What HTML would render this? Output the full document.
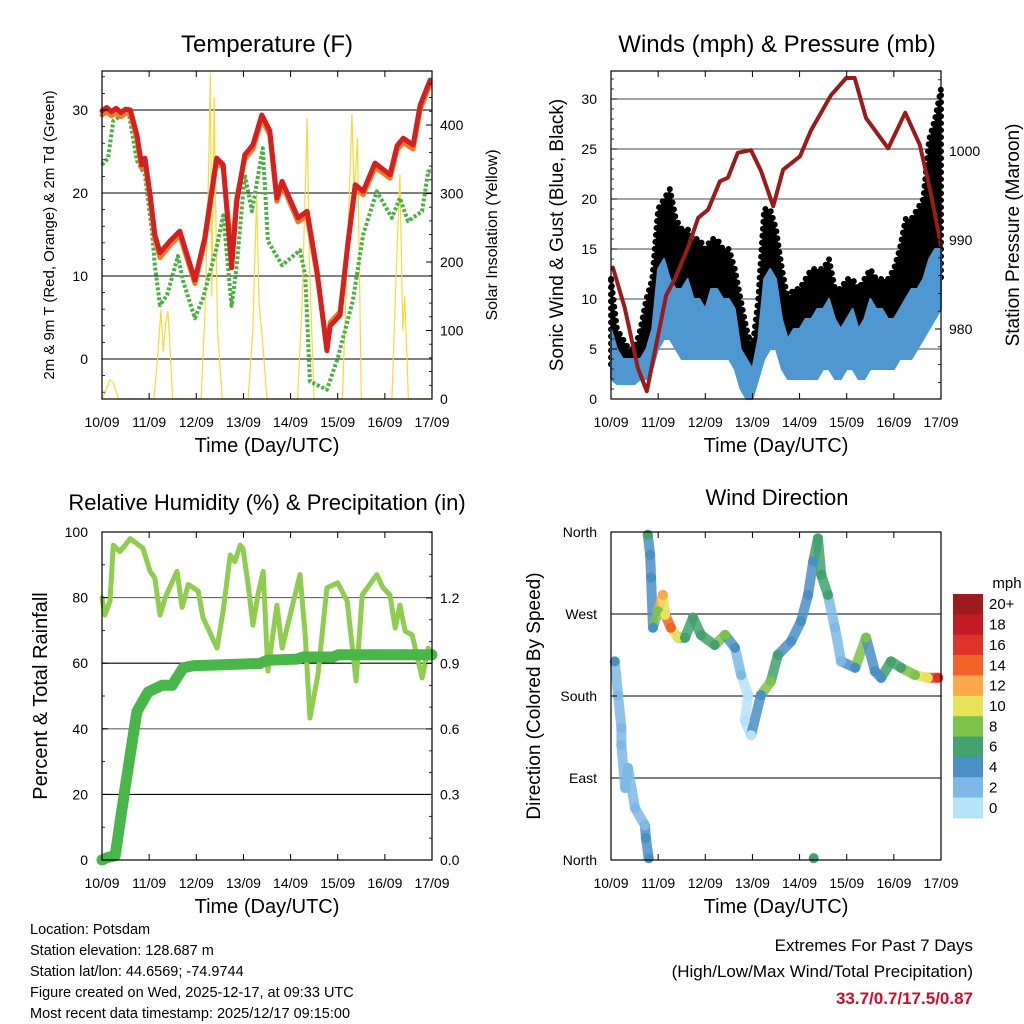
<!DOCTYPE html>
<html><head><meta charset="utf-8"><style>
body{margin:0;background:#fff;}
svg{display:block;font-family:"Liberation Sans",sans-serif;}
</style></head><body>
<svg id="c" width="1024" height="1024" viewBox="0 0 1024 1024">
<g id="g"></g>
</svg>
<script>
// ---------- DATA ----------
const dayLabels = ["10/09","11/09","12/09","13/09","14/09","15/09","16/09","17/09"];
const tempTicks = [0,10,20,30];
const solarTicks = [0,100,200,300,400];
const windTicks = [0,5,10,15,20,25,30];
const presTicks = [980,990,1000];
const rhTicks = [0,20,40,60,80,100];
const rainTicks = [0.0,0.3,0.6,0.9,1.2];
const dirTicks = ["North","East","South","West","North"];
const speedBins = ["0","2","4","6","8","10","12","14","16","18","20+"];

const tempTimes = [0,0.1,0.2,0.3,0.4,0.5,0.6,0.74,0.84,0.91,1.02,1.12,1.23,1.44,1.65,1.97,2.18,2.43,2.57,2.75,2.86,3.03,3.2,3.39,3.56,3.71,3.82,4.16,4.35,4.56,4.77,4.84,5.05,5.22,5.37,5.54,5.79,6.11,6.26,6.39,6.6,6.75,6.96];
const tempRed = [29.9,30.3,29.8,30.2,29.7,30.1,30,27,23.4,24.2,19.8,15,12.8,14.2,15.4,9.5,14.6,24.2,23.4,11,19,24.6,25.8,29.4,27.5,19.4,21.4,17,17.8,10.6,1,4,5.3,14.2,21,20.2,23.6,22.2,25.7,26.6,25.8,30.6,33.6];
const tempOrange = [29.4,29.8,29.3,29.7,29.2,29.6,29.6,26.5,23,23.8,19.3,14.5,12.2,13.7,14.9,9.1,14.2,23.8,23,12.5,19.5,24.1,25.3,28.9,27,19,21,16.5,17.3,10.2,1.5,4.4,5.7,14,20.6,19.8,23.1,21.8,25.2,26.1,25.3,30.1,33.1];
const dewTimes = [0,0.13,0.24,0.56,0.74,0.91,1.06,1.12,1.23,1.38,1.61,1.72,1.97,2.14,2.43,2.57,2.75,2.86,3.03,3.18,3.41,3.52,3.82,4.2,4.31,4.41,4.77,5.0,5.32,5.54,5.83,6.15,6.32,6.49,6.79,6.92,7.0];
const dewVals = [23.4,24.2,28.7,29.9,23.9,22.2,15.4,11.3,6.5,7.7,12.4,9.4,4.9,7.3,13.4,17.3,6.4,11.3,22.2,17.8,25.4,14.2,11.3,13.1,10.1,-2.7,-3.7,0.1,7,15,20.2,17,19.4,16.6,17.8,22.6,22.6];
const solarTimes = [0,0.1,0.17,0.25,0.35,1.1,1.18,1.25,1.3,1.35,1.4,1.5,2.1,2.18,2.25,2.3,2.33,2.38,2.45,2.55,3.1,3.2,3.28,3.33,3.4,3.5,4.15,4.25,4.35,4.4,4.5,5.1,5.2,5.3,5.35,5.42,5.5,6.15,6.25,6.32,6.38,6.42,6.5,7.0];
const solarVals = [0,15,28,22,0,0,60,130,70,110,128,0,0,120,300,476,150,440,100,0,0,100,298,140,90,0,0,150,410,200,0,0,200,415,300,380,0,0,200,327,100,150,0,0];

const windTimes = [0,0.125,0.25,0.375,0.5,0.625,0.75,0.875,1,1.125,1.25,1.375,1.5,1.625,1.75,1.875,2,2.125,2.25,2.375,2.5,2.625,2.75,2.875,3,3.125,3.25,3.375,3.5,3.625,3.75,3.875,4,4.125,4.25,4.375,4.5,4.625,4.75,4.875,5,5.125,5.25,5.375,5.5,5.625,5.75,5.875,6,6.125,6.25,6.375,6.5,6.625,6.75,6.875,7];
const windLow = [2,1.5,1.5,1.5,1.5,2,2,3,5,6,6,5,4,4,4,4,4,4,4,4,4,3,1,0,0,2,4,5,5,3,2,2,2,2,2,2,3,3,2,2,3,3,2,2,3,3,3,3,3,4,4,4,5,6,7,8,9];
const windHigh = [7,5,4,4,4,4,5,7,13,14,12,11,11,12,10,10,9,11,11,10,10,9,5,4,3,6,12,13,12,8,6,7,7,8,8,9,9,10,8,7,8,9,7,8,10,9,9,8,8,9,10,11,11,12,14,15,15];
const gustLow = [3,3,3,3,3,3,4,5,8,8,8,7,7,7,7,7,7,7,7,7,7,6,2,1,1,4,8,8,7,5,4,4,4,4,4,4,4,4,4,4,5,5,4,4,5,5,5,5,6,6,7,7,8,9,10,11,12];
const gustHigh = [12,7,6,5,5,7,10,12,19,20,21,18,17,17,16,16,15,16,16,15,15,13,10,7,5,10,19,19,17,13,10,11,11,12,13,13,13,14,11,11,12,12,11,12,13,12,12,12,13,15,18,18,19,20,26,28,31];
const presTimes = [0.04,0.29,0.57,0.76,1.0,1.17,1.36,1.63,1.85,2.06,2.31,2.48,2.69,2.97,3.18,3.44,3.65,4.01,4.24,4.67,4.99,5.17,5.41,5.88,6.24,6.55,6.79,7.0];
const presVals = [986.9,982.4,975.6,973.0,979.3,983.8,985.7,989.1,992.5,993.4,996.6,997.0,999.8,1000.1,997.8,993.8,997.9,999.4,1002.3,1006.3,1008.2,1008.2,1003.7,1000.3,1004.3,1000.7,995.1,989.4];

const rhTimes = [0,0.06,0.17,0.24,0.38,0.6,0.87,1.02,1.12,1.23,1.34,1.59,1.7,1.83,2.04,2.14,2.44,2.57,2.72,2.82,2.93,2.99,3.1,3.2,3.31,3.42,3.52,3.71,3.82,4.03,4.2,4.31,4.41,4.58,4.77,5.0,5.2,5.39,5.52,5.83,5.96,6.11,6.22,6.32,6.43,6.58,6.79,6.92,7.0];
const rhVals = [80,74.7,79,96,94,98,95,88,86,74.7,80,88,77,84,82,74,64.6,76,93,91,96,95,84,71.6,81,88,57.6,77.7,64.6,77,87,68.6,43.3,56.4,83,84.5,79,54.6,80.8,87,83,80.8,70.7,77.7,69.8,68.6,55.5,64.6,62];
const rainTimes = [0,0.1,0.28,0.49,0.74,0.98,1.27,1.49,1.72,1.93,3.35,3.5,4.14,4.27,4.9,5.01,7.0];
const rainVals = [0,0.01,0.02,0.33,0.68,0.77,0.8,0.8,0.88,0.89,0.9,0.915,0.92,0.93,0.93,0.94,0.94];

const dirTimes = [0.08,0.15,0.22,0.22,0.3,0.36,0.51,0.72,0.74,0.8,0.78,0.83,0.85,0.89,1.0,1.1,1.15,1.27,1.42,1.57,1.74,1.91,2.2,2.42,2.63,2.76,2.91,2.84,2.97,3.18,3.39,3.54,3.82,4.03,4.18,4.29,4.39,4.46,4.6,4.75,4.88,5.18,5.41,5.6,5.73,5.94,6.15,6.45,6.72,6.94,4.3];
const dirVals = [218,181,145,126,79,101,57,38,24,2,357,335,310,255,273,291,269,255,244,244,266,247,236,247,233,203,181,153,137,181,196,225,240,262,291,328,353,313,291,255,218,211,244,207,200,218,211,203,200,200,2];
const dirSpeeds = [5,2,2,2,2,2,2,3,4,5,6,4,4,4,9,12,11,14,10,7,7,6,7,9,4,2,1,0,0,4,8,7,4,4,4,4,7,6,7,3,2,4,8,4,4,6,7,9,10,16,6];

// ---------- RENDER ----------
const NS="http://www.w3.org/2000/svg";
const G=document.getElementById('g');
function el(tag,attrs,parent,txt){const e=document.createElementNS(NS,tag);for(const k in attrs)e.setAttribute(k,attrs[k]);if(txt!==undefined)e.textContent=txt;(parent||G).appendChild(e);return e;}
const binColors=["#b7e3f8","#7cb9e6","#4a8fc6","#43a26e","#7dc24a","#e8e25a","#f9a94a","#f26329","#e0312a","#c21b26","#9e1a1e"];
function spColor(s){let i=Math.floor(s/2);if(i>10)i=10;if(i<0)i=0;return binColors[i];}

const P={T:{x0:102,x1:432,y0:71,y1:399},W:{x0:611,x1:941,y0:71,y1:399},R:{x0:102,x1:432,y0:532,y1:860},D:{x0:611,x1:941,y0:532,y1:860}};
function sx(p,t){return p.x0+t/7*(p.x1-p.x0);}
function lin(d0,d1,r0,r1){return v=>r0+(v-d0)/(d1-d0)*(r1-r0);}
const yT=lin(0,30,359,110), yS=lin(0,400,399,125);
const yW=lin(0,30,399,99), yP=lin(990,1000,240,151);
const yR=lin(0,100,860,532), yPr=lin(0,1.2,860,598);
const yD=lin(0,360,860,532);

function txt(x,y,s,size,anchor,name,extra){const t=el('text',Object.assign({x:x,y:y,'font-size':size,'text-anchor':anchor||'middle',fill:'#000'},extra||{}),G,s);return t;}
function path(pts){return pts.map((p,i)=>(i?'L':'M')+p[0].toFixed(1)+','+p[1].toFixed(1)).join('');}

function frame(p,name){
  const r=el('rect',{x:p.x0,y:p.y0,width:p.x1-p.x0,height:p.y1-p.y0,fill:'none',stroke:'#000','stroke-width':1.2});
  
  for(let d=0;d<=7;d++){const x=sx(p,d);
    el('line',{x1:x,x2:x,y1:p.y1,y2:p.y1-6,stroke:'#000'});
    el('line',{x1:x,x2:x,y1:p.y0,y2:p.y0+6,stroke:'#000'});
    txt(x,p.y1+28,dayLabels[d],14,'middle','x-tick-label');
  }
  txt((p.x0+p.x1)/2,p.y1+53,"Time (Day/UTC)",20,'middle','x-axis-title');
}
function hgrid(p,y,col){el('line',{x1:p.x0,x2:p.x1,y1:y,y2:y,stroke:col||'#000','stroke-width':1.1});}
function lticks(p,vals,f,labels,side,minorStep,min,max){
  vals.forEach((v,i)=>{const y=f(v);
    if(side==='L'){el('line',{x1:p.x0,x2:p.x0+6,y1:y,y2:y,stroke:'#000'});txt(p.x0-14,y+5,labels?labels[i]:String(v),14,'end','y-tick-label');}
    else{el('line',{x1:p.x1,x2:p.x1-6,y1:y,y2:y,stroke:'#000'});txt(p.x1+8,y+5,labels?labels[i]:String(v),14,'start','y2-tick-label');}
  });
  if(minorStep){for(let v=min;v<=max+1e-9;v+=minorStep){const y=f(v);if(y<p.y0||y>p.y1)continue;
    if(side==='L')el('line',{x1:p.x0,x2:p.x0+3,y1:y,y2:y,stroke:'#000','stroke-width':0.8});
    else el('line',{x1:p.x1,x2:p.x1-3,y1:y,y2:y,stroke:'#000','stroke-width':0.8});}}
}
function line(pts,stroke,w,name,extra){const e=el('path',Object.assign({d:path(pts),fill:'none',stroke:stroke,'stroke-width':w,'stroke-linejoin':'round','stroke-linecap':'round'},extra||{}));return e;}

// ---- Temperature panel ----
(function(){const p=P.T;
  txt(267,52,"Temperature (F)",24,'middle','temperature-title');
  tempTicks.forEach(v=>hgrid(p,yT(v)));
  line(solarTimes.map((t,i)=>[sx(p,t),yS(solarVals[i])]),'#f6d93b',1.2,'solar-insolation-line');
  line(dewTimes.map((t,i)=>[sx(p,t),yT(dewVals[i])]),'#4cb043',4,'dewpoint-line',{'stroke-dasharray':'3,2','stroke-linecap':'butt'});
  line(tempTimes.map((t,i)=>[sx(p,t),yT(tempOrange[i])]),'#f07a28',5,'temp-9m-line');
  line(tempTimes.map((t,i)=>[sx(p,t),yT(tempRed[i])]),'#d42020',5,'temp-2m-line');
  frame(p,'temperature');
  lticks(p,tempTicks,yT,null,'L',2,-4,34);
  lticks(p,solarTicks,yS,null,'R',20,0,460);
  txt(0,0,"2m & 9m T (Red, Orange) & 2m Td (Green)",15,'middle','y-axis-title',{transform:'translate(54,235) rotate(-90)'});
  txt(0,0,"Solar Insolation (Yellow)",16,'middle','y2-axis-title',{transform:'translate(497,235) rotate(-90)'});
})();

// ---- Winds panel ----
(function(){const p=P.W;
  txt(777,52,"Winds (mph) & Pressure (mb)",24,'middle','winds-title');
  windTicks.forEach(v=>{if(v>0)hgrid(p,yW(v),'#444');});
  const gp=windTimes.map((t,i)=>[sx(p,t),yW(gustHigh[i])]).concat(windTimes.map((t,i)=>[sx(p,t),yW(gustLow[i])]).reverse());
  const g=el('path',{d:path(gp)+'Z',fill:'#000',stroke:'#000','stroke-width':6,'stroke-linejoin':'round','stroke-linecap':'round','stroke-dasharray':'0,7'});
  
  const wp=windTimes.map((t,i)=>[sx(p,t),yW(windHigh[i])]).concat(windTimes.map((t,i)=>[sx(p,t),yW(windLow[i])]).reverse());
  const w=el('path',{d:path(wp)+'Z',fill:'#4f97d1',stroke:'#4f97d1','stroke-width':2,'stroke-linejoin':'round'});
  
  line(presTimes.map((t,i)=>[sx(p,t),yP(presVals[i])]),'#9b1b1b',4,'pressure-line');
  frame(p,'winds');
  lticks(p,windTicks,yW,null,'L',1,0,32);
  lticks(p,presTicks,yP,null,'R',2,972,1008);
  txt(0,0,"Sonic Wind & Gust (Blue, Black)",19,'middle','y-axis-title',{transform:'translate(563,235) rotate(-90)'});
  txt(0,0,"Station Pressure (Maroon)",19,'middle','y2-axis-title',{transform:'translate(1019,235) rotate(-90)'});
})();

// ---- RH panel ----
(function(){const p=P.R;
  txt(267,510,"Relative Humidity (%) & Precipitation (in)",22,'middle','rh-title');
  [20,40,60,80].forEach((v,i)=>hgrid(p,yR(v),i%2?'#666':'#000'));
  line(rhTimes.map((t,i)=>[sx(p,t),yR(rhVals[i])]),'#8fcc4f',5,'relative-humidity-line');
  line(rainTimes.map((t,i)=>[sx(p,t),yPr(rainVals[i])]),'#48b648',11,'precipitation-line');
  frame(p,'rh');
  lticks(p,rhTicks,yR,null,'L',10,0,100);
  lticks(p,rainTicks,yPr,rainTicks.map(v=>v.toFixed(1)),'R',0.1,0,1.5);
  txt(0,0,"Percent & Total Rainfall",20,'middle','y-axis-title',{transform:'translate(47,696) rotate(-90)'});
})();

// ---- Wind direction panel ----
(function(){const p=P.D;
  txt(777,505,"Wind Direction",22,'middle','wind-direction-title');
  [90,180,270].forEach(v=>hgrid(p,yD(v)));
  for(let i=1;i<dirTimes.length;i++){
    if(Math.abs(dirVals[i]-dirVals[i-1])>90)continue;
    const s=el('line',{x1:sx(p,dirTimes[i-1]),y1:yD(dirVals[i-1]),x2:sx(p,dirTimes[i]),y2:yD(dirVals[i]),stroke:spColor(dirSpeeds[i]),'stroke-width':10,'stroke-linecap':'round',opacity:0.85});
    
  }
  dirTimes.forEach((t,i)=>{
    const c=el('circle',{cx:sx(p,t),cy:yD(dirVals[i]),r:5,fill:spColor(dirSpeeds[i])});
    
  });
  frame(p,'wind-direction');
  lticks(p,[0,90,180,270,360],yD,dirTicks,'L',0,0,0);
  txt(0,0,"Direction (Colored By Speed)",19,'middle','y-axis-title',{transform:'translate(540,696) rotate(-90)'});
  txt(1007,588,"mph",15,'middle','colorbar-title');
  const bh=(818-594)/11;
  speedBins.forEach((s,i)=>{
    const k=10-i;const y=594+i*bh;
    const r=el('rect',{x:953,y:y,width:30,height:bh+0.3,fill:binColors[k]});
    
    txt(989,y+bh/2+5,speedBins[k],15,'start','colorbar-label');
  });
})();

// ---- footer ----
["Location: Potsdam","Station elevation: 128.687 m","Station lat/lon: 44.6569; -74.9744","Figure created on Wed, 2025-12-17, at 09:33 UTC","Most recent data timestamp: 2025/12/17 09:15:00"].forEach((s,i)=>{
  txt(30,934+i*21,s,14.5,'start','station-info-line');
});
txt(973,951,"Extremes For Past 7 Days",17,'end','extremes-title');
txt(973,977,"(High/Low/Max Wind/Total Precipitation)",17,'end','extremes-subtitle');
txt(973,1004,"33.7/0.7/17.5/0.87",17,'end','extremes-values',{fill:'#c8102e','font-weight':'bold'});
</script>
</body></html>
